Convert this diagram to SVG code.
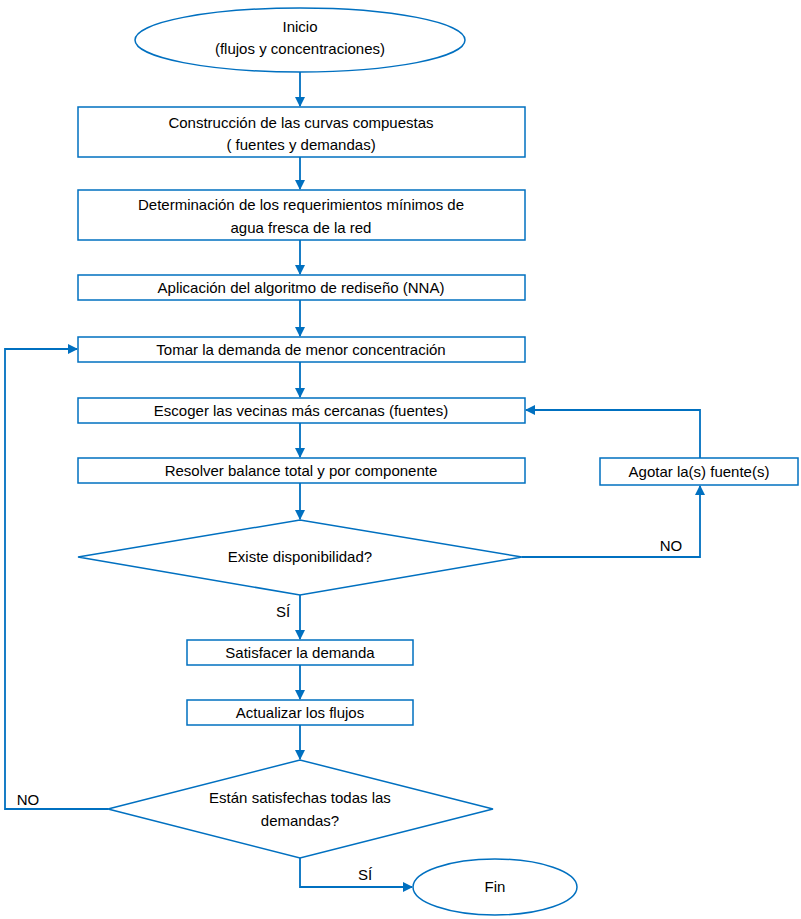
<svg xmlns="http://www.w3.org/2000/svg" width="801" height="919" viewBox="0 0 801 919">
<style>
.s{fill:#fff;stroke:#0070c0;stroke-width:1.5}
.c{fill:none;stroke:#0070c0;stroke-width:1.8}
text{font-family:"Liberation Sans",Arial,sans-serif;font-size:15px;fill:#000;text-anchor:middle}
.l{text-anchor:start}
</style>
<defs><marker id="a" markerWidth="10" markerHeight="10" refX="9" refY="5" orient="auto" markerUnits="userSpaceOnUse"><path d="M0,0 L10,5 L0,10 z" fill="#0070c0"/></marker></defs>
<rect width="801" height="919" fill="#fff"/>
<g id="connectors">
<path class="c" d="M300,72 V106" marker-end="url(#a)"/>
<path class="c" d="M300,157 V189" marker-end="url(#a)"/>
<path class="c" d="M300,240 V274" marker-end="url(#a)"/>
<path class="c" d="M300,300 V336" marker-end="url(#a)"/>
<path class="c" d="M300,362 V397" marker-end="url(#a)"/>
<path class="c" d="M300,423 V457" marker-end="url(#a)"/>
<path class="c" d="M300,483 V519" marker-end="url(#a)"/>
<path class="c" d="M300,595 V639" marker-end="url(#a)"/>
<path class="c" d="M300,665 V699" marker-end="url(#a)"/>
<path class="c" d="M300,725 V759" marker-end="url(#a)"/>
<path class="c" d="M522,557 H700 V486" marker-end="url(#a)"/>
<path class="c" d="M700,458 V410 H526" marker-end="url(#a)"/>
<path class="c" d="M108,809 H5 V349 H77" marker-end="url(#a)"/>
<path class="c" d="M300,858 V887 H412" marker-end="url(#a)"/>
<text x="671" y="551">NO</text>
<text x="283" y="617">SÍ</text>
<text x="28" y="805">NO</text>
<text x="365" y="880">SÍ</text>
</g>
<g id="inicio"><ellipse class="s" cx="300" cy="40" rx="165" ry="32"/><text x="300" y="32">Inicio</text><text x="300" y="54">(flujos y concentraciones)</text></g>
<g id="n1"><rect class="s" x="78" y="107" width="447" height="50"/><text x="301" y="128">Construcción de las curvas compuestas</text><text x="301" y="150">( fuentes y demandas)</text></g>
<g id="n2"><rect class="s" x="78" y="190" width="447" height="50"/><text x="301" y="210">Determinación de los requerimientos mínimos de</text><text x="301" y="233">agua fresca de la red</text></g>
<g id="n3"><rect class="s" x="78" y="275" width="447" height="25"/><text x="301" y="293">Aplicación del algoritmo de rediseño (NNA)</text></g>
<g id="n4"><rect class="s" x="78" y="337" width="447" height="25"/><text x="301" y="355">Tomar la demanda de menor concentración</text></g>
<g id="n5"><rect class="s" x="78" y="398" width="447" height="25"/><text x="301" y="416">Escoger las vecinas más cercanas (fuentes)</text></g>
<g id="n6"><rect class="s" x="78" y="458" width="447" height="25"/><text x="301" y="476">Resolver balance total y por componente</text></g>
<g id="agotar"><rect class="s" x="600" y="458" width="198" height="27"/><text x="699" y="477">Agotar la(s) fuente(s)</text></g>
<g id="d1"><polygon class="s" points="78,557 300,520 522,557 300,595"/><text x="300" y="562">Existe disponibilidad?</text></g>
<g id="n7"><rect class="s" x="187" y="640" width="226" height="25"/><text x="300" y="658">Satisfacer la demanda</text></g>
<g id="n8"><rect class="s" x="187" y="700" width="226" height="25"/><text x="300" y="718">Actualizar los flujos</text></g>
<g id="d2"><polygon class="s" points="108,809 300,760 493,809 300,858"/><text x="300" y="803">Están satisfechas todas las</text><text x="300" y="826">demandas?</text></g>
<g id="fin"><ellipse class="s" cx="495" cy="887" rx="82" ry="28"/><text x="495" y="892">Fin</text></g>
</svg>
